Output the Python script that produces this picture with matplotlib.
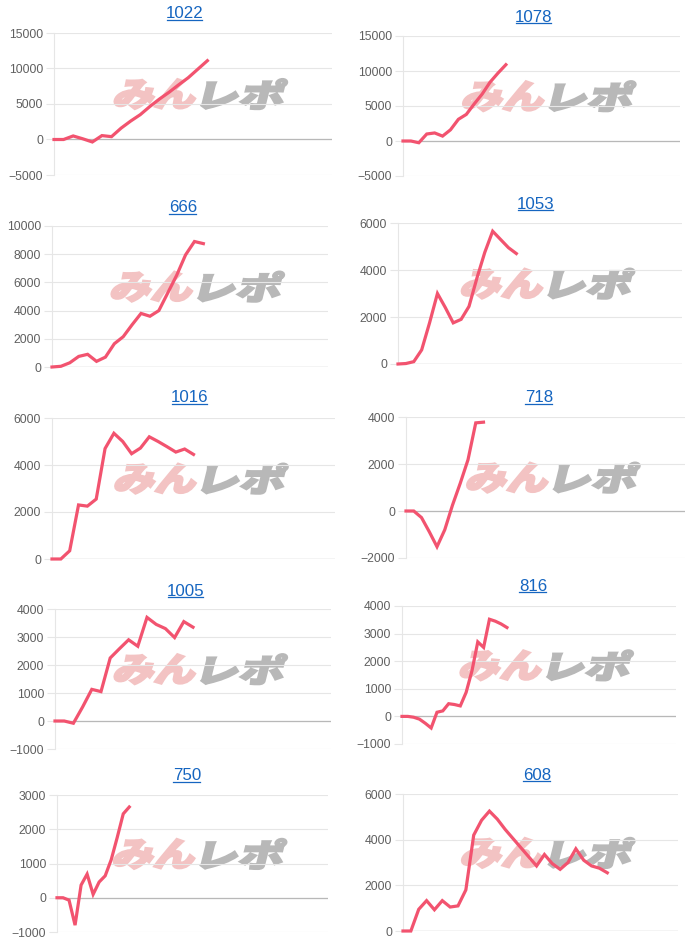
import numpy as np
import matplotlib
matplotlib.use("Agg")
from matplotlib import pyplot as plt
from matplotlib.font_manager import FontProperties
from matplotlib.lines import Line2D
from matplotlib.patches import PathPatch
from matplotlib.textpath import TextPath
from matplotlib.transforms import Affine2D

plt.rcParams["font.family"] = ["Liberation Sans", "DejaVu Sans"]

W, H = 700, 947

# machine numbers (chart titles)
titles = ["1022", "1078", "666", "1053", "1016", "718", "1005", "816", "750", "608"]

# cumulative difference series, one value per game slot
s1022 = [0, 0, 500, 100, -350, 550, 400, 1600, 2600, 3500, 4650, 5700, 6650,
         7700, 8700, 9900, 11100]
s1078 = [0, 0, -250, 1000, 1150, 700, 1600, 3100, 3800, 5300, 6700, 8400,
         9700, 10900]
s666 = [0, 50, 300, 750, 900, 400, 700, 1650, 2150, 3000, 3800, 3600, 4000,
        5250, 6500, 7950, 8900, 8750]
s1053 = [0, 20, 100, 600, 1750, 3000, 2400, 1750, 1900, 2450, 3650, 4750,
         5650, 5300, 4950, 4700]
s1016 = [0, 0, 350, 2300, 2250, 2550, 4700, 5350, 5000, 4480, 4720, 5200,
         5000, 4780, 4550, 4680, 4450]
s718 = [0, 0, -280, -880, -1520, -800, 250, 1180, 2180, 3750, 3780]
s1005 = [0, 0, -80, 500, 1130, 1050, 2250, 2580, 2900, 2670, 3700, 3450,
         3300, 2980, 3550, 3350]
s816 = [0, 0, -30, -100, -250, -420, 150, 200, 460, 430, 380, 870, 1650,
        2700, 2500, 3520, 3450, 3350, 3220]
s750 = [0, 0, -70, -800, 370, 690, 100, 460, 640, 1110, 1760, 2450, 2650]
s608 = [0, 0, 950, 1330, 930, 1330, 1050, 1100, 1800, 4200, 4850, 5250, 4900,
        4450, 4050, 3650, 3250, 2850, 3350, 2950, 2700, 3000, 3600, 3100,
        2850, 2750, 2550]
series = [s1022, s1078, s666, s1053, s1016, s718, s1005, s816, s750, s608]

# number of x slots on each chart
slots = [29, 35, 31, 36, 32, 36, 30, 47, 45, 35]

# y axis range and tick step
ylims = [(-5000, 15000), (-5000, 15000), (0, 10000), (0, 6000), (0, 6000),
         (-2000, 4000), (-1000, 4000), (-1000, 4000), (-1000, 3000), (0, 6000)]
ysteps = [5000, 5000, 2000, 2000, 2000, 2000, 1000, 1000, 1000, 2000]

# plot boxes in pixels: left, top, right, bottom ; title centre in pixels
boxes = [(54, 33, 332, 175), (403, 36, 680, 176), (52, 226, 328, 367),
         (398, 223, 682, 364), (52, 418, 335, 559), (406, 417, 685, 558),
         (55, 609, 331, 749), (402, 606, 676, 744), (57, 795, 328, 932),
         (403, 794, 678, 931)]
title_pos = [(185, 14), (534, 17), (183, 208), (536, 204), (190, 398),
             (539, 398), (186, 591), (533, 586), (187, 776), (537, 775)]

LINE = "#f2536f"
GRID = "#e6e6e6"
ZERO = "#b8b8b8"
TICK = "#606060"
LINK = "#1565c0"

fig = plt.figure(figsize=(W / 100, H / 100), dpi=100)
px = Affine2D().scale(1 / W, 1 / H) + fig.transFigure
logo_font = FontProperties(family="Noto Sans CJK JP", weight="black")


def add_logo(cx, cy):
    # pink "みん" + grey "レポ", leaning right, like the site watermark
    for text, color, dx in [("みん", "#f3c3c3", -45), ("レポ", "#b8b8b8", 43)]:
        tp = TextPath((0, 0), text, size=1, prop=logo_font)
        ext = tp.get_extents()
        tr = (Affine2D()
              .translate(-ext.x0 - ext.width / 2, -ext.y0 - ext.height / 2)
              .scale(80 / ext.width, 30 / ext.height)
              .skew_deg(14, 0)
              .translate(cx + dx, cy))
        fig.add_artist(PathPatch(tr.transform_path(tp), facecolor=color,
                                 edgecolor=color, linewidth=1.6,
                                 transform=px, zorder=1))


title_texts = []
for i, vals in enumerate(series):
    l, t, r, b = boxes[i]
    ax = fig.add_axes([l / W, 1 - b / H, (r - l) / W, (b - t) / H])
    ax.set_facecolor("none")
    ax.set_zorder(2)
    lo, hi = ylims[i]
    ax.set_ylim(lo, hi)
    ax.set_xlim(0, slots[i])
    ax.set_yticks(np.arange(lo, hi + 1, ysteps[i]))
    ax.set_xticks([])
    for side in ["top", "right", "bottom"]:
        ax.spines[side].set_visible(False)
    ax.spines["left"].set_color(GRID)
    ax.tick_params(axis="y", length=5.5, width=0.8, color=GRID, pad=2.4,
                   labelsize=8.8, labelcolor=TICK)
    ax.grid(axis="y", color=GRID, linewidth=0.8)
    ax.set_axisbelow(True)
    ax.axhline(0, color=ZERO, linewidth=0.9, zorder=1.5)

    add_logo(l + 0.53 * (r - l), H - (t + 0.43 * (b - t)))

    ax.plot(np.arange(len(vals)), vals, color=LINE, linewidth=2.3,
            solid_joinstyle="miter", clip_on=False, zorder=3)

    tx, ty = title_pos[i]
    txt = fig.text(tx / W, 1 - ty / H, titles[i], color=LINK, fontsize=12.2,
                   ha="center", va="center")
    title_texts.append(txt)

# underline the titles (they are links on the page)
fig.canvas.draw()
renderer = fig.canvas.get_renderer()
for txt in title_texts:
    bb = txt.get_window_extent(renderer)
    y = bb.y0 + 1.5
    fig.add_artist(Line2D([(bb.x0 + 0.5) / W, (bb.x1 - 1.5) / W], [y / H, y / H],
                          color=LINK, linewidth=0.9,
                          transform=fig.transFigure))

fig.savefig("out.png", dpi=100, facecolor="white")
